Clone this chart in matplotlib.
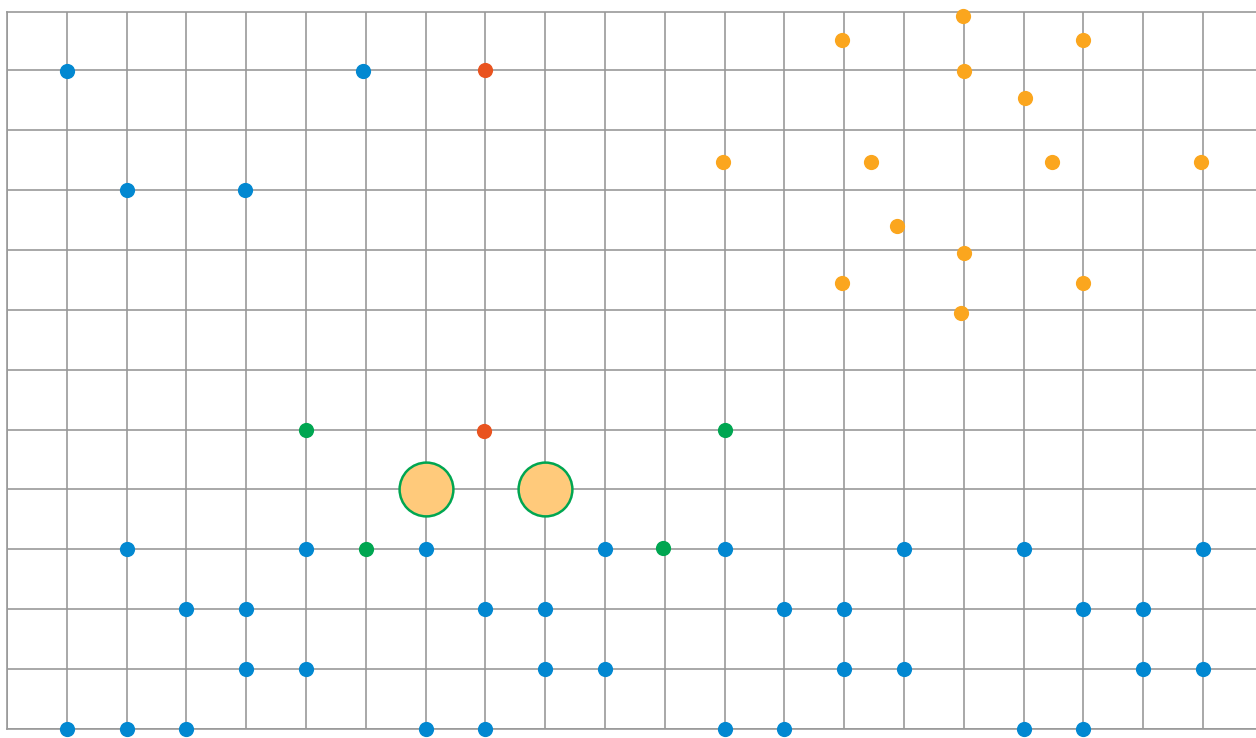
import matplotlib.pyplot as plt

# blue points (grid units)
blue_x = [1, 5.95, 2, 3.98, 2, 5, 7, 10, 12, 15, 17, 20,
          3, 4, 8, 9, 13, 14, 18, 19,
          4, 5, 9, 10, 14, 15, 19, 20,
          1, 2, 3, 7, 8, 12, 13, 17, 18]
blue_y = [10.98, 10.98, 9, 9, 3, 3, 3, 3, 3, 3, 3, 3,
          2, 2, 2, 2, 2, 2, 2, 2,
          1, 1, 1, 1, 1, 1, 1, 1,
          0, 0, 0, 0, 0, 0, 0, 0, 0]

red_x = [8, 7.98]
red_y = [11.0, 4.97]

green_x = [5, 12, 6, 10.97]
green_y = [5, 5, 3, 3.03]

big_x = [7, 9]
big_y = [4, 4]

orange_x = [15.99, 13.96, 18, 16, 17.02, 11.97, 14.45, 17.47, 19.97,
            14.88, 16, 13.96, 18, 15.96]
orange_y = [11.90, 11.50, 11.50, 10.98, 10.53, 9.47, 9.47, 9.47, 9.46,
            8.40, 7.95, 7.45, 7.45, 6.95]

fig = plt.figure(figsize=(12.56, 7.38), dpi=100)
ax = fig.add_axes([7 / 1256, 9 / 738, 1249 / 1256, 717 / 738])
ax.set_xlim(0, 1249 / 59.8)
ax.set_ylim(0, 717 / 59.9)

ax.set_xticks(range(0, 21))
ax.set_yticks(range(0, 12))
ax.tick_params(length=0, labelbottom=False, labelleft=False)
ax.grid(True, color='#999999', linewidth=1.2)
ax.set_axisbelow(True)
for side in ['left', 'top', 'bottom']:
    ax.spines[side].set_color('#999999')
    ax.spines[side].set_linewidth(1.2)
ax.spines['right'].set_visible(False)

dot = 120
ax.scatter(blue_x, blue_y, s=dot, color='#0288D1', linewidths=0, clip_on=False, zorder=3)
ax.scatter(red_x, red_y, s=dot, color='#E9531F', linewidths=0, clip_on=False, zorder=3)
ax.scatter(green_x, green_y, s=dot, color='#00A651', linewidths=0, clip_on=False, zorder=3)
ax.scatter(orange_x, orange_y, s=dot, color='#FBA61E', linewidths=0, clip_on=False, zorder=3)
ax.scatter(big_x, big_y, s=1500, color='#FFCA7B', edgecolors='#00A651', linewidths=1.8, zorder=3)

fig.savefig('out.png', dpi=100)
